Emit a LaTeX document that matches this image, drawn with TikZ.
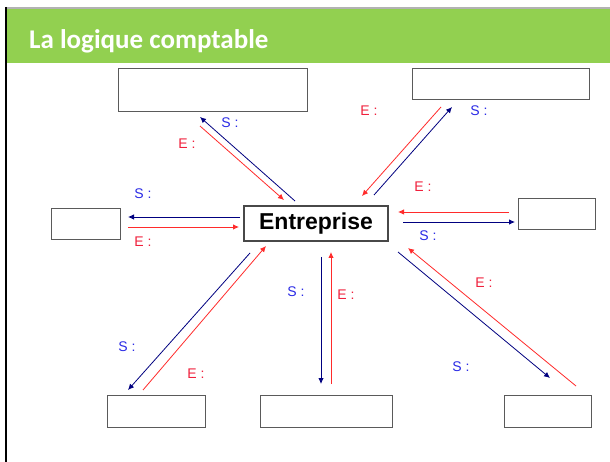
\documentclass[tikz,border=0pt]{standalone}
\usepackage{fontspec}
\setmainfont{Liberation Sans}
\newfontfamily\titlefont{Carlito}
\usetikzlibrary{arrows.meta}
\definecolor{hdrgreen}{HTML}{92D050}
\definecolor{sblue}{HTML}{000080}
\definecolor{lblue}{HTML}{2B2BE6}
\definecolor{ered}{HTML}{FF2B2B}
\definecolor{lred}{HTML}{F0203C}
\definecolor{boxgray}{HTML}{5A5A5A}
\tikzset{
  emptybox/.style={draw=boxgray, line width=1.1pt, fill=white, inner sep=0pt, anchor=north west},
  sarrow/.style={draw=sblue, line width=0.8pt, -{Latex[length=6pt,width=5.5pt]}},
  earrow/.style={draw=ered, line width=0.8pt, -{Latex[length=6pt,width=5.5pt]}},
  slabel/.style={text=lblue, font=\fontsize{14}{16}\selectfont, inner sep=0pt},
  elabel/.style={text=lred, font=\fontsize{14}{16}\selectfont, inner sep=0pt},
}
\begin{document}
\begin{tikzpicture}[x=1pt,y=-1pt]
\useasboundingbox (0,0) rectangle (610,462);
\fill[white] (0,0) rectangle (610,462);
% frame and header
\fill[hdrgreen] (7,9) rectangle (610,63);
\draw[gray!60, line width=2pt] (5,8) -- (610,8);
\draw[black, line width=2.2pt] (6.1,7) -- (6.1,462);
\node[anchor=base west, text=white, font=\titlefont\bfseries\fontsize{27}{31}\selectfont, inner sep=0pt] (title) at (29,49) {La logique comptable};

% boxes
\node[emptybox, minimum width=189pt, minimum height=43pt] (tl) at (118,68) {};
\node[emptybox, minimum width=177pt, minimum height=31pt] (tr) at (412,68) {};
\node[emptybox, minimum width=69pt, minimum height=31pt] (lb) at (51,208) {};
\node[emptybox, minimum width=77pt, minimum height=31pt] (rb) at (518,198) {};
\node[emptybox, minimum width=98pt, minimum height=32pt] (bl) at (107,395) {};
\node[emptybox, minimum width=132pt, minimum height=32pt] (bm) at (260,395) {};
\node[emptybox, minimum width=87pt, minimum height=32pt] (br) at (504,395) {};
\node[draw=boxgray!80!black, line width=1.1pt, fill=white, minimum width=144pt, minimum height=35pt, inner sep=0pt, font=\bfseries\fontsize{23}{26}\selectfont] (ent) at (316,223.5) {Entreprise};

% endpoints
\coordinate (a1) at (295,201); \coordinate (a2) at (200,117);
\coordinate (a3) at (200,126); \coordinate (a4) at (284,200);
\coordinate (b1) at (441,107); \coordinate (b2) at (362,196);
\coordinate (b3) at (374,195); \coordinate (b4) at (452,107);
\coordinate (c1) at (240,217); \coordinate (c2) at (128,217);
\coordinate (c3) at (128,227); \coordinate (c4) at (239,227);
\coordinate (d1) at (509,212); \coordinate (d2) at (398,212);
\coordinate (d3) at (403,222); \coordinate (d4) at (515,222);
\coordinate (e1) at (576,386); \coordinate (e2) at (408,248);
\coordinate (e3) at (398,252); \coordinate (e4) at (550,378);
\coordinate (f1) at (250,253); \coordinate (f2) at (128,390);
\coordinate (f3) at (143,390); \coordinate (f4) at (266,246);
\coordinate (g1) at (321,257); \coordinate (g2) at (321,384);
\coordinate (g3) at (331,384); \coordinate (g4) at (331,252);

% arrows
\draw[sarrow] (a1) -- (a2);
\draw[earrow] (a3) -- (a4);
\draw[earrow] (b1) -- (b2);
\draw[sarrow] (b3) -- (b4);
\draw[sarrow] (c1) -- (c2);
\draw[earrow] (c3) -- (c4);
\draw[earrow] (d1) -- (d2);
\draw[sarrow] (d3) -- (d4);
\draw[earrow] (e1) -- (e2);
\draw[sarrow] (e3) -- (e4);
\draw[sarrow] (f1) -- (f2);
\draw[earrow] (f3) -- (f4);
\draw[sarrow] (g1) -- (g2);
\draw[earrow] (g3) -- (g4);

% labels
\node[slabel] (ls1) at (230,123) {S :};
\node[elabel] (le1) at (187,144) {E :};
\node[elabel] (le2) at (369,111) {E :};
\node[slabel] (ls2) at (479,111) {S :};
\node[elabel] (le3) at (423,187) {E :};
\node[slabel] (ls3) at (143,194) {S :};
\node[elabel] (le4) at (143,242) {E :};
\node[slabel] (ls4) at (428,236) {S :};
\node[elabel] (le5) at (484,283) {E :};
\node[slabel] (ls5) at (461,367) {S :};
\node[slabel] (ls6) at (127,347) {S :};
\node[elabel] (le6) at (196,374) {E :};
\node[slabel] (ls7) at (296,292) {S :};
\node[elabel] (le7) at (346,295) {E :};
\end{tikzpicture}
\end{document}
